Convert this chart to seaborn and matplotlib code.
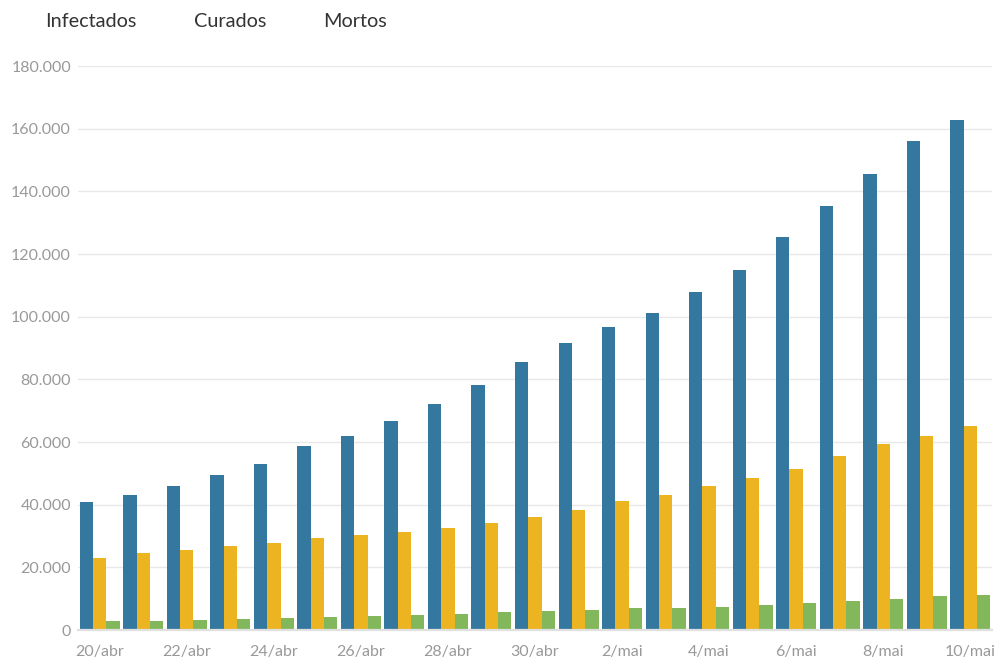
import matplotlib
matplotlib.use("Agg")
import matplotlib.pyplot as plt
import seaborn as sns
import pandas as pd
from matplotlib.patches import Patch
from matplotlib.ticker import FuncFormatter

datas = ["20/abr", "21/abr", "22/abr", "23/abr", "24/abr", "25/abr", "26/abr",
         "27/abr", "28/abr", "29/abr", "30/abr", "1/mai", "2/mai", "3/mai",
         "4/mai", "5/mai", "6/mai", "7/mai", "8/mai", "9/mai", "10/mai"]
infectados = [40900, 43100, 46000, 49500, 53000, 58700, 61900, 66700, 72100, 78200,
              85500, 91600, 96700, 101200, 107900, 114900, 125400, 135300, 145500,
              156100, 162800]
curados = [23000, 24600, 25500, 26800, 27800, 29400, 30300, 31300, 32600, 34200,
           36100, 38300, 41200, 43100, 46000, 48500, 51400, 55500, 59400, 61900, 65100]
mortos = [2900, 2900, 3200, 3500, 3800, 4200, 4500, 4800, 5100, 5700,
          6000, 6400, 7000, 7000, 7300, 8000, 8600, 9200, 9900, 10800, 11100]
series = ["Infectados", "Curados", "Mortos"]
cores = ["#34789F", "#EDB421", "#82B75B"]
yticks = [0, 20000, 40000, 60000, 80000, 100000, 120000, 140000, 160000, 180000]

df = pd.DataFrame({
    "data": datas * 3,
    "valor": infectados + curados + mortos,
    "serie": [s for s in series for _ in datas],
})

sns.set_style("white")
plt.rcParams["font.family"] = ["Lato", "DejaVu Sans"]

fig = plt.figure(figsize=(9.99, 6.61), dpi=100)
ax = fig.add_axes([78 / 999, 31 / 661, (992 - 78) / 999, (630 - 66) / 661])

sns.barplot(data=df, x="data", y="valor", hue="serie", order=datas, hue_order=series,
            palette=cores, saturation=1, width=0.92, linewidth=0, ax=ax)

ax.set_xlim(-0.5, len(datas) - 0.5)
ax.set_ylim(0, 180000)
ax.set_yticks(yticks)
ax.yaxis.set_major_formatter(FuncFormatter(lambda v, p: f"{int(v):,}".replace(",", ".")))
ax.set_xticks(range(len(datas)))
ax.set_xticklabels([d if i % 2 == 0 else "" for i, d in enumerate(datas)])
ax.set_xlabel("")
ax.set_ylabel("")

ax.grid(axis="y", color="#e8e8e8", linewidth=1)
ax.set_axisbelow(True)
for s in ["left", "right", "top"]:
    ax.spines[s].set_visible(False)
ax.spines["bottom"].set_color("#e0e0e0")
ax.spines["bottom"].set_linewidth(1.6)

ax.tick_params(axis="y", length=0, pad=5, labelsize=11.5, labelcolor="#999999")
ax.tick_params(axis="x", length=5, width=1, color="#e0e0e0", pad=6,
               labelsize=11.5, labelcolor="#999999")

if ax.get_legend() is not None:
    ax.get_legend().remove()

handles = [Patch(facecolor="none", edgecolor="none") for _ in series]
leg = fig.legend(handles, series, loc="upper left",
                 bbox_to_anchor=(45 / 999, 1 - 13 / 661), bbox_transform=fig.transFigure,
                 ncol=3, frameon=False, handlelength=0, handletextpad=0,
                 columnspacing=2.88, borderpad=0, borderaxespad=0, fontsize=14.3)
for t in leg.get_texts():
    t.set_color("#333333")

fig.savefig("out.png", dpi=100)
